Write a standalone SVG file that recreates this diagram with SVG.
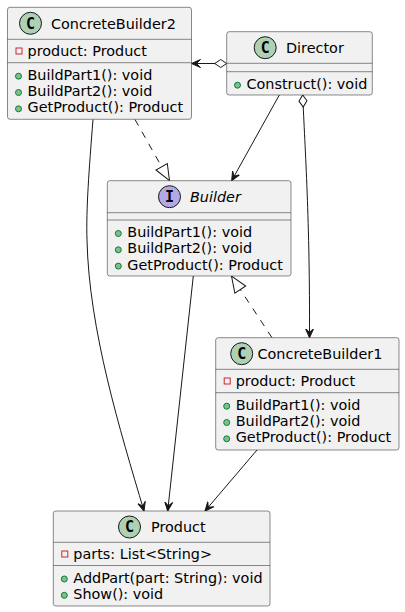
<svg xmlns="http://www.w3.org/2000/svg" width="405" height="612" viewBox="0 0 405 612">
<style>
.box{fill:#F1F1F1;stroke:#181818;stroke-width:0.5}
.sep{stroke:#181818;stroke-width:0.5}
.t{font-family:"DejaVu Sans",sans-serif;font-size:14.4px;fill:#000000}
.it{font-style:italic}
.ic{stroke:#181818;stroke-width:1}
.cc{fill:#ADD1B2}
.ci{fill:#B4A7E5}
.lt{font-family:"DejaVu Sans Mono","DejaVu Sans",monospace;font-size:15px;font-weight:bold;fill:#000000;text-anchor:middle}
.pub{fill:#84BE84;stroke:#038048;stroke-width:1}
.pri{fill:none;stroke:#C82930;stroke-width:1}
.ln{fill:none;stroke:#181818;stroke-width:1}
.dash{stroke-dasharray:7,7}
</style>
<defs>
<marker id="arr" viewBox="0 -5 10 10" refX="9" refY="0" markerWidth="10" markerHeight="10" markerUnits="userSpaceOnUse" orient="auto">
<path d="M0,-4 L9,0 L0,4 L4,0 Z" fill="#181818" stroke="#181818" stroke-width="1"/>
</marker>
<marker id="dia" viewBox="-1 -5 14 10" refX="0" refY="0" markerWidth="14" markerHeight="10" markerUnits="userSpaceOnUse" orient="auto">
<path d="M0,0 L6,-4 L12,0 L6,4 Z" fill="#FFFFFF" stroke="#181818" stroke-width="1"/>
</marker>
<marker id="tri" viewBox="-1 -8 18 16" refX="16" refY="0" markerWidth="18" markerHeight="16" markerUnits="userSpaceOnUse" orient="auto">
<path d="M0,-6.5 L16,0 L0,6.5 Z" fill="#FFFFFF" stroke="#181818" stroke-width="1"/>
</marker>
</defs>
<rect width="405" height="612" fill="#FFFFFF"/>

<g id="connectors">
<path class="ln" d="M226.7,63.5 L191.5,63.5" marker-start="url(#dia)" marker-end="url(#arr)"/>
<path class="ln" d="M279.3,95 L231.7,180.7" marker-end="url(#arr)"/>
<path class="ln" d="M302.7,95 C305,150 310,220 309.5,337.7" marker-start="url(#dia)" marker-end="url(#arr)"/>
<path class="ln dash" d="M135,119.5 L169.5,180.7" marker-end="url(#tri)"/>
<path class="ln dash" d="M272,337.7 L231.5,276.2" marker-end="url(#tri)"/>
<path class="ln" d="M93,119.5 C89,170 86,210 87,240 C89,330 120,430 144,511" marker-end="url(#arr)"/>
<path class="ln" d="M193.3,276 L167.7,511" marker-end="url(#arr)"/>
<path class="ln" d="M257,450 L205,511" marker-end="url(#arr)"/>
</g>

<g id="ConcreteBuilder2">
<rect class="box" x="7.5" y="7.3" width="184" height="112" rx="2.5"/>
<circle class="ic cc" cx="30.5" cy="23.3" r="11"/>
<text class="lt" x="30.5" y="28.5">C</text>
<text class="t" x="51" y="28.5">ConcreteBuilder2</text>
<line class="sep" x1="7.5" y1="39.3" x2="191.5" y2="39.3"/>
<rect class="pri" x="16" y="48" width="6" height="6"/>
<text class="t" x="27.5" y="56.3">product: Product</text>
<line class="sep" x1="7.5" y1="62.7" x2="191.5" y2="62.7"/>
<circle class="pub" cx="18.5" cy="76.2" r="3"/>
<text class="t" x="27.5" y="79.7">BuildPart1(): void</text>
<circle class="pub" cx="18.5" cy="92.5" r="3"/>
<text class="t" x="27.5" y="96">BuildPart2(): void</text>
<circle class="pub" cx="18.5" cy="108.8" r="3"/>
<text class="t" x="27.5" y="112.3">GetProduct(): Product</text>
</g>

<g id="Director">
<rect class="box" x="226.7" y="31.7" width="145.6" height="63.3" rx="2.5"/>
<circle class="ic cc" cx="265.2" cy="47.7" r="11"/>
<text class="lt" x="265.2" y="52.9">C</text>
<text class="t" x="286" y="52.9">Director</text>
<line class="sep" x1="226.7" y1="63.3" x2="372.3" y2="63.3"/>
<line class="sep" x1="226.7" y1="71.7" x2="372.3" y2="71.7"/>
<circle class="pub" cx="237.5" cy="85.2" r="3"/>
<text class="t" x="246.5" y="88.7">Construct(): void</text>
</g>

<g id="Builder">
<rect class="box" x="107.3" y="180.7" width="183.7" height="95.3" rx="2.5"/>
<circle class="ic ci" cx="169.5" cy="196.7" r="11"/>
<text class="lt" x="169.5" y="201.9">I</text>
<text class="t it" x="190" y="201.9">Builder</text>
<line class="sep" x1="107.3" y1="212.7" x2="291" y2="212.7"/>
<line class="sep" x1="107.3" y1="220" x2="291" y2="220"/>
<circle class="pub" cx="118.3" cy="233.5" r="3"/>
<text class="t" x="127.3" y="237">BuildPart1(): void</text>
<circle class="pub" cx="118.3" cy="249.8" r="3"/>
<text class="t" x="127.3" y="253.3">BuildPart2(): void</text>
<circle class="pub" cx="118.3" cy="266.1" r="3"/>
<text class="t" x="127.3" y="269.6">GetProduct(): Product</text>
</g>

<g id="ConcreteBuilder1">
<rect class="box" x="215.7" y="337.7" width="183.3" height="112.3" rx="2.5"/>
<circle class="ic cc" cx="241.7" cy="353.7" r="11"/>
<text class="lt" x="241.7" y="358.9">C</text>
<text class="t" x="257.5" y="358.9">ConcreteBuilder1</text>
<line class="sep" x1="215.7" y1="369.3" x2="399" y2="369.3"/>
<rect class="pri" x="224.2" y="378" width="6" height="6"/>
<text class="t" x="235.7" y="386.3">product: Product</text>
<line class="sep" x1="215.7" y1="392.7" x2="399" y2="392.7"/>
<circle class="pub" cx="226.7" cy="406.2" r="3"/>
<text class="t" x="235.7" y="409.7">BuildPart1(): void</text>
<circle class="pub" cx="226.7" cy="422.5" r="3"/>
<text class="t" x="235.7" y="426">BuildPart2(): void</text>
<circle class="pub" cx="226.7" cy="438.8" r="3"/>
<text class="t" x="235.7" y="442.3">GetProduct(): Product</text>
</g>

<g id="Product">
<rect class="box" x="53.3" y="511" width="216.7" height="95" rx="2.5"/>
<circle class="ic cc" cx="129.5" cy="527" r="11"/>
<text class="lt" x="129.5" y="532.2">C</text>
<text class="t" x="151" y="532.2">Product</text>
<line class="sep" x1="53.3" y1="542.3" x2="270" y2="542.3"/>
<rect class="pri" x="61.8" y="551" width="6" height="6"/>
<text class="t" x="73.3" y="559.3">parts: List&lt;String&gt;</text>
<line class="sep" x1="53.3" y1="565.5" x2="270" y2="565.5"/>
<circle class="pub" cx="64.3" cy="579" r="3"/>
<text class="t" x="73.3" y="582.5">AddPart(part: String): void</text>
<circle class="pub" cx="64.3" cy="595.3" r="3"/>
<text class="t" x="73.3" y="598.8">Show(): void</text>
</g>
</svg>
